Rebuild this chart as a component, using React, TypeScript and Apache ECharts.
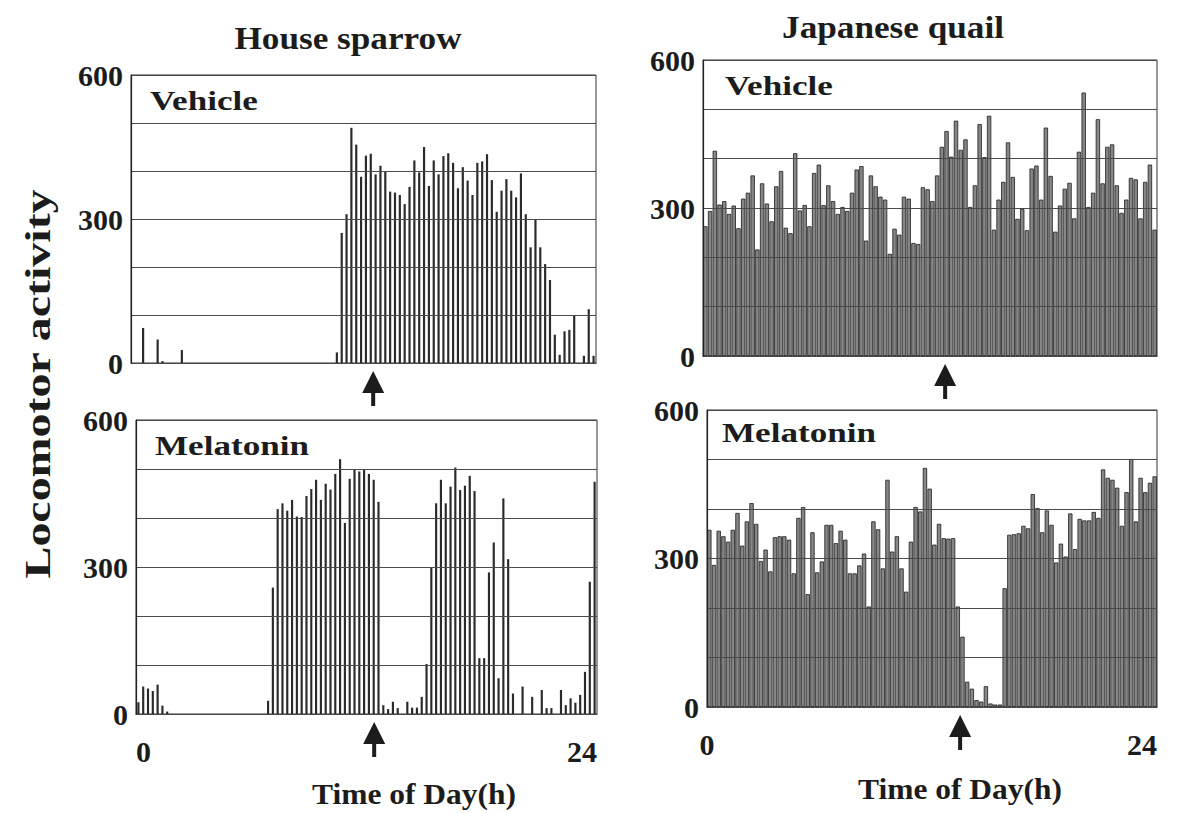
import React, { useEffect, useRef } from "react";
import * as echarts from "echarts";

// 15-minute bins over one day
const HOURS: string[] = Array.from({ length: 96 }, (_, i) => (i / 4).toFixed(2));
const Y_LABELED = [0, 300, 600];

// House sparrow, vehicle
const sparrowVehicle = [
  0, 0, 73, 0, 0, 49, 4, 0, 0, 0, 27,
  0, 0, 0, 0, 0, 0, 0, 0, 0, 0,
  0, 0, 0, 0, 0, 0, 0, 0, 0, 0,
  0, 0, 0, 0, 0, 0, 0, 0, 0, 0, 0,
  22, 271, 310, 490, 455, 388, 432, 436, 393, 411, 400, 357, 355, 350, 331, 367, 422, 397,
  450, 369, 422, 393, 431, 437, 417, 364, 408, 380, 350, 417, 420, 435, 381, 315, 359, 383,
  359, 345, 395, 310, 241, 298, 241, 206, 173, 59, 17, 66, 69, 99, 0, 15, 112, 15,
];

// House sparrow, melatonin
const sparrowMelatonin = [
  24, 56, 52, 47, 60, 17, 5,
  0, 0, 0, 0, 0, 0, 0, 0, 0, 0, 0, 0, 0, 0, 0, 0, 0, 0, 0, 0,
  27,
  258, 418, 430, 415, 437, 403, 402, 445, 459, 478, 437, 470, 458, 490, 520, 390, 480, 498,
  495, 498, 490, 478, 433,
  18, 10, 25, 12, 0, 25, 13, 13, 35,
  102, 300, 430, 478, 430, 464, 503, 457, 466, 486, 455, 114, 114, 289, 350, 73, 440, 316, 42,
  0, 56, 0, 35, 0, 49, 12, 12, 0, 49, 18, 32, 23, 39, 86, 270, 474,
];

// Japanese quail, vehicle
const quailVehicle = [
  263, 294, 416, 307, 314, 288, 305, 259, 319, 331,
  366, 216, 350, 309, 273, 344, 375, 260, 249, 411,
  295, 306, 263, 371, 388, 306, 346, 314, 288, 302,
  294, 331, 378, 385, 234, 366, 344, 323, 317, 207,
  258, 246, 323, 319, 229, 227, 342, 338, 314, 366,
  424, 456, 404, 477, 418, 439, 302, 346, 470, 403,
  487, 256, 317, 353, 433, 363, 278, 298, 255, 380,
  386, 317, 463, 365, 252, 305, 339, 351, 279, 414,
  534, 302, 331, 480, 350, 424, 429, 346, 290, 317,
  361, 358, 279, 353, 388, 256,
];

// Japanese quail, melatonin
const quailMelatonin = [
  358, 287, 356, 345, 334, 358, 392, 326, 375, 412,
  370, 295, 318, 274, 343, 345, 345, 338, 270, 382,
  404, 228, 353, 272, 294, 368, 368, 331, 356, 338,
  270, 270, 286, 310, 203, 375, 359, 280, 459, 314, 345,
  280, 233, 334, 404, 395, 483, 441, 328, 370, 341,
  340, 341, 203, 142, 51, 37, 14, 11, 42, 7,
  5, 5, 240, 348, 349, 351, 366, 361, 430, 402,
  353, 397, 368, 292, 330, 304, 391, 319, 380, 377, 377,
  394, 382, 480, 463, 459, 443, 366, 434, 501, 375,
  463, 434, 453, 466,
];

// injection times (h) marked by arrows: sparrow vehicle, sparrow melatonin, quail vehicle, quail melatonin
const ARROW_HOURS = [12.5, 12.4, 12.8, 13.5];

const SERIF = "Liberation Serif, Times New Roman, serif";
const INK = "#1c1c1c";

type Panel = {
  data: number[];
  grid: { left: number; top: number; width: number; height: number };
  species: "sparrow" | "quail";
  label: string;
  labelAt: [number, number];
  bottom: boolean;
  minAlign: "left" | "center";
};

const PANELS: Panel[] = [
  { data: sparrowVehicle, grid: { left: 131, top: 75, width: 465, height: 288 }, species: "sparrow", label: "Vehicle", labelAt: [150, 101], bottom: false, minAlign: "left" },
  { data: sparrowMelatonin, grid: { left: 136, top: 420, width: 461, height: 294 }, species: "sparrow", label: "Melatonin", labelAt: [155, 446], bottom: true, minAlign: "left" },
  { data: quailVehicle, grid: { left: 703, top: 60, width: 454, height: 296 }, species: "quail", label: "Vehicle", labelAt: [725, 86], bottom: false, minAlign: "center" },
  { data: quailMelatonin, grid: { left: 707, top: 410, width: 450, height: 297 }, species: "quail", label: "Melatonin", labelAt: [722, 433], bottom: true, minAlign: "center" },
];

function textEl(id: string, text: string, x: number, y: number, size: number, align: string, scaleX = 1, rotation = 0) {
  return {
    id,
    type: "text",
    x,
    y,
    scaleX,
    rotation,
    silent: true,
    style: {
      text,
      fill: INK,
      fontFamily: SERIF,
      fontWeight: "bold",
      fontSize: size,
      textAlign: align,
      textVerticalAlign: "middle",
    },
  };
}

export default function App() {
  const ref = useRef<HTMLDivElement>(null);

  useEffect(() => {
    if (!ref.current) return;
    const chart = echarts.init(ref.current, undefined, { renderer: "svg" });

    const grids = PANELS.map((p) => ({
      ...p.grid,
      show: true,
      borderColor: "#333",
      borderWidth: 1,
      containLabel: false,
    }));

    const catAxes = PANELS.map((p, i) => ({
      type: "category",
      gridIndex: i,
      data: HOURS,
      boundaryGap: true,
      axisLine: { show: true, lineStyle: { color: "#222", width: 1.2 } },
      axisTick: { show: false },
      axisLabel: { show: false },
      splitLine: { show: false },
    }));

    const hourAxes = PANELS.map((p, i) => ({
      type: "value",
      gridIndex: i,
      min: 0,
      max: 24,
      interval: 24,
      position: "bottom",
      axisLine: { show: false },
      axisTick: { show: false },
      splitLine: { show: false },
      axisLabel: {
        show: p.bottom,
        margin: 22,
        color: INK,
        fontFamily: SERIF,
        fontWeight: "bold",
        fontSize: 30,
        alignMinLabel: p.minAlign,
        alignMaxLabel: "right",
      },
    }));

    const yAxes = PANELS.map((p, i) => ({
      type: "value",
      gridIndex: i,
      min: 0,
      max: 600,
      interval: 100,
      z: 6,
      axisLine: { show: true, lineStyle: { color: "#222", width: 1.2 } },
      axisTick: { show: false },
      splitLine: { show: true, lineStyle: { color: "#4a4a4a", width: 1 } },
      axisLabel: {
        margin: 8,
        color: INK,
        fontFamily: SERIF,
        fontWeight: "bold",
        fontSize: 30,
        formatter: (v: number) => (Y_LABELED.includes(v) ? String(v) : ""),
      },
    }));

    const series = PANELS.map((p, i) =>
      p.species === "sparrow"
        ? {
            type: "bar",
            xAxisIndex: i,
            yAxisIndex: i,
            data: p.data,
            barWidth: "45%",
            itemStyle: { color: "#2a2a2a" },
            silent: true,
          }
        : {
            type: "bar",
            xAxisIndex: i,
            yAxisIndex: i,
            data: p.data,
            barCategoryGap: "8%",
            itemStyle: { color: "#868686", borderColor: "#1e1e1e", borderWidth: 0.8 },
            silent: true,
          }
    );

    const texts: any[] = [
      textEl("t-sparrow", "House sparrow", 348, 38, 32, "center", 1.1),
      textEl("t-quail", "Japanese quail", 893, 27, 32, "center", 1.1),
      textEl("t-ylabel", "Locomotor activity", 38, 384, 35, "center", 1.37, Math.PI / 2),
      textEl("t-x-left", "Time of Day(h)", 414, 794, 30, "center", 1.05),
      textEl("t-x-right", "Time of Day(h)", 960, 789, 30, "center", 1.05),
      ...PANELS.map((p, i) => textEl(`t-panel-${i}`, p.label, p.labelAt[0], p.labelAt[1], 27, "left", 1.3)),
    ];

    chart.setOption({
      animation: false,
      backgroundColor: "#ffffff",
      grid: grids,
      xAxis: [...catAxes, ...hourAxes],
      yAxis: yAxes,
      series,
      graphic: { elements: texts },
    });

    // arrows below each panel at the injection time
    const arrows = PANELS.map((p, i) => {
      const x = chart.convertToPixel({ xAxisIndex: PANELS.length + i } as any, ARROW_HOURS[i]) as number;
      const y = p.grid.top + p.grid.height + 8;
      return {
        id: `arrow-${i}`,
        type: "group",
        x,
        y,
        silent: true,
        children: [
          { type: "polygon", shape: { points: [[0, 0], [-11, 22], [11, 22]] }, style: { fill: INK } },
          { type: "rect", shape: { x: -2, y: 21, width: 4, height: 14 }, style: { fill: INK } },
        ],
      };
    });

    chart.setOption({ graphic: { elements: [...texts, ...arrows] } });

    return () => chart.dispose();
  }, []);

  return (
    <div
      ref={ref}
      style={{ position: "fixed", left: 0, top: 0, width: 1181, height: 813, background: "#fff" }}
    />
  );
}
